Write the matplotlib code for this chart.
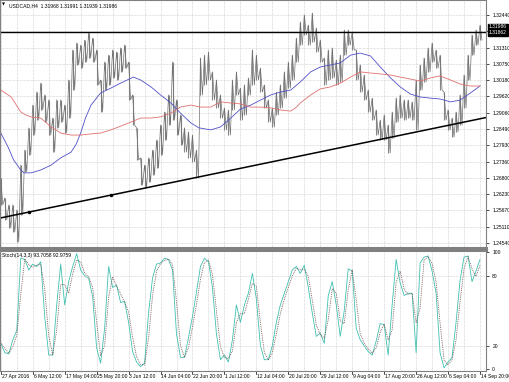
import numpy as np
import pandas as pd
import matplotlib
matplotlib.use("Agg")
import matplotlib.pyplot as plt

plt.rcParams["font.family"] = ["Liberation Sans", "DejaVu Sans"]

# H4 bar positions of the samples (40 bars between two date labels)
bars = np.arange(0, 605, 5)

high = [1.2679, 1.2610, 1.2586, 1.2586, 1.2568, 1.2724, 1.2776, 1.2853, 1.2932, 1.2977,
        1.3008, 1.2967, 1.2950, 1.2887, 1.2950, 1.2950, 1.2932, 1.3019, 1.3123, 1.3147,
        1.3140, 1.3157, 1.3182, 1.3164, 1.3123, 1.3019, 1.3081, 1.3105, 1.3123, 1.3116,
        1.3130, 1.3140, 1.3081, 1.2967, 1.2853, 1.2749, 1.2724, 1.2749, 1.2776, 1.2811,
        1.2863, 1.2908, 1.2967, 1.3081, 1.2950, 1.2898, 1.2853, 1.2839, 1.2828, 1.2776,
        1.3095, 1.3105, 1.3116, 1.3047, 1.3019, 1.2967, 1.2922, 1.2915, 1.3019, 1.3047,
        1.2991, 1.3002, 1.3026, 1.3123, 1.3105, 1.3060, 1.3002, 1.2950, 1.2922, 1.2977,
        1.3002, 1.3047, 1.3081, 1.3105, 1.3164, 1.3220, 1.3244, 1.3209, 1.3251, 1.3199,
        1.3157, 1.3095, 1.3123, 1.3130, 1.3088, 1.3105, 1.3192, 1.3192, 1.3185, 1.3123,
        1.3071, 1.3036, 1.2984, 1.2956, 1.2915, 1.2880, 1.2898, 1.2863, 1.2908, 1.2956,
        1.2967, 1.2950, 1.2950, 1.2943, 1.3019, 1.3071, 1.3095, 1.3130, 1.3147, 1.3123,
        1.3105, 1.2977, 1.2915, 1.2887, 1.2908, 1.2967, 1.3036, 1.3105, 1.3175, 1.3192,
        1.3209]
low = [1.2586, 1.2534, 1.2506, 1.2492, 1.2458, 1.2551, 1.2700, 1.2759, 1.2828, 1.2880,
       1.2915, 1.2873, 1.2828, 1.2769, 1.2853, 1.2873, 1.2835, 1.2887, 1.2984, 1.3071,
       1.3060, 1.3081, 1.3095, 1.3081, 1.3002, 1.2908, 1.2984, 1.3002, 1.3026, 1.3019,
       1.3047, 1.3060, 1.2950, 1.2863, 1.2742, 1.2655, 1.2645, 1.2665, 1.2690, 1.2714,
       1.2759, 1.2811, 1.2863, 1.2880, 1.2828, 1.2794, 1.2769, 1.2749, 1.2735, 1.2679,
       1.2967, 1.3002, 1.3019, 1.2950, 1.2922, 1.2887, 1.2846, 1.2828, 1.2915, 1.2967,
       1.2880, 1.2898, 1.2967, 1.3002, 1.3019, 1.2977, 1.2922, 1.2873, 1.2856, 1.2898,
       1.2922, 1.2956, 1.2991, 1.3019, 1.3081, 1.3140, 1.3175, 1.3140, 1.3150, 1.3116,
       1.3081, 1.3002, 1.3019, 1.3026, 1.3002, 1.3012, 1.3105, 1.3140, 1.3123, 1.3019,
       1.2977, 1.2950, 1.2908, 1.2880, 1.2828, 1.2811, 1.2811, 1.2766, 1.2818, 1.2873,
       1.2887, 1.2880, 1.2887, 1.2880, 1.2846, 1.2984, 1.3012, 1.3047, 1.3081, 1.3060,
       1.2984, 1.2880, 1.2846, 1.2821, 1.2839, 1.2863, 1.2922, 1.3019, 1.3105, 1.3140,
       1.3157]

stoch_main = [22, 14, 13, 25, 33, 95, 94, 85, 90, 88,
              92, 45, 12, 12, 55, 90, 55, 75, 88, 99,
              85, 80, 78, 62, 18, 5, 35, 88, 70, 72,
              57, 58, 40, 15, 6, 2, 5, 48, 78, 90,
              91, 95, 94, 85, 30, 10, 10, 27, 45, 66,
              88, 95, 92, 70, 30, 8, 12, 6, 25, 55,
              40, 55, 65, 82, 60, 20, 8, 8, 20, 40,
              55, 65, 75, 85, 88, 82, 89, 70, 48, 28,
              31, 22, 63, 75, 55, 28, 50, 86, 84, 35,
              25, 20, 15, 12, 24, 39, 38, 12, 55, 94,
              74, 63, 65, 65, 14, 91, 96, 97, 84, 65,
              14, 1, 6, 10, 40, 76, 96, 97, 75, 84,
              94]

ma_bars = [0, 9, 16, 25, 29, 38, 50, 63, 75, 88, 94, 100, 106, 113, 125, 138, 150, 166,
           175, 188, 200, 213, 225, 238, 248, 263, 275, 288, 300, 313, 325, 338, 350, 363,
           375, 388, 400, 413, 425, 438, 450, 463, 475, 488, 500, 513, 525, 538, 550, 563,
           575, 588, 600]
ma_blue = [1.2835, 1.2787, 1.2742, 1.2707, 1.2697, 1.2697, 1.2707, 1.2724, 1.2749, 1.2769,
           1.2794, 1.2835, 1.2887, 1.2932, 1.2974, 1.2991, 1.3008, 1.3029, 1.3019, 1.2995,
           1.2967, 1.2939, 1.2904, 1.2870, 1.2853, 1.2846, 1.2856, 1.2887, 1.2918, 1.2932,
           1.2949, 1.2967, 1.2977, 1.2984, 1.3012, 1.3047, 1.3064, 1.3071, 1.3078, 1.3105,
           1.3112, 1.3102, 1.3064, 1.3026, 1.2995, 1.2970, 1.2960, 1.2956, 1.2953, 1.2943,
           1.2949, 1.2974, 1.2998]
ma_red_bars = [0, 13, 25, 31, 38, 50, 63, 69, 75, 88, 100, 113, 125, 138, 150, 163, 175,
               188, 200, 213, 225, 238, 250, 263, 275, 288, 300, 313, 325, 338, 350, 363,
               369, 375, 388, 400, 413, 425, 438, 450, 463, 475, 488, 500, 513, 525, 538,
               550, 563, 575, 588, 600]
ma_red = [1.2984, 1.2960, 1.2908, 1.2898, 1.2891, 1.2887, 1.2856, 1.2846, 1.2835, 1.2828,
          1.2828, 1.2832, 1.2835, 1.2846, 1.2859, 1.2873, 1.2887, 1.2887, 1.2891, 1.2904,
          1.2925, 1.2932, 1.2925, 1.2925, 1.2943, 1.2939, 1.2936, 1.2925, 1.2925, 1.2922,
          1.2915, 1.2911, 1.2922, 1.2939, 1.2967, 1.2988, 1.2995, 1.3008, 1.3029, 1.3047,
          1.3043, 1.3040, 1.3036, 1.3029, 1.3022, 1.3015, 1.3026, 1.3033, 1.3019, 1.3005,
          1.2998, 1.2998]

trend_bars = [0, 608]
trend_price = [1.2541, 1.2889]
trend_anchor_bars = [35, 138]
level_price = 1.31862
last_price = 1.31986

date_labels = ["27 Apr 2016", "6 May 12:00", "17 May 04:00", "25 May 20:00", "3 Jun 12:00",
               "14 Jun 04:00", "22 Jun 20:00", "1 Jul 12:00", "12 Jul 04:00", "20 Jul 20:00",
               "29 Jul 12:00", "9 Aug 04:00", "17 Aug 20:00", "26 Aug 12:00", "6 Sep 04:00",
               "14 Sep 20:00"]
price_ticks = [1.24540, 1.25110, 1.25670, 1.26230, 1.26800, 1.27360, 1.27930, 1.28490,
               1.29060, 1.29620, 1.30180, 1.30750, 1.31310, 1.31870, 1.32440]

GRID = "#c8c8c8"
FS = 3.6

fig = plt.figure(figsize=(5.10, 3.82), dpi=100)
ax = fig.add_axes([0.0, 1 - 248 / 382, 486 / 510, 248 / 382])
ax2 = fig.add_axes([0.0, 1 - 371 / 382, 486 / 510, 121 / 382])

# zigzag through high/low of every sample to mimic the dense bars
zx = np.column_stack([bars, bars + 2.5]).ravel()
zy = np.column_stack([high, low]).ravel()
ax.vlines(bars, low, high, color="#858585", lw=0.8)
ax.plot(zx, zy, color="#707070", lw=0.5)

ax.plot(ma_bars, ma_blue, color="#5050c8", lw=0.6)
ax.plot(ma_red_bars, ma_red, color="#e07070", lw=0.6)
ax.plot(trend_bars, trend_price, color="black", lw=1.1)
tp = np.interp(trend_anchor_bars, trend_bars, trend_price)
ax.plot(trend_anchor_bars, tp, "o", color="black", ms=1.5)
ax.axhline(level_price, color="black", lw=1.0)

ax.set_xlim(-1, 607.5)
ax.set_ylim(1.24367, 1.3296)
ax.yaxis.tick_right()
ax.set_yticks(price_ticks)
ax.set_yticklabels(["%.5f" % p if abs(p - 1.3187) > 1e-4 else "" for p in price_ticks])
ax.set_xticks(np.arange(0, 608, 20))
ax.set_xticklabels([])
ax.tick_params(axis="y", labelsize=FS, length=2, width=0.5, pad=2.5, colors="black")
ax.tick_params(axis="x", length=0)
ax.grid(True, color=GRID, ls=(0, (1, 1)), lw=0.5)
for s in ax.spines.values():
    s.set_color("#808080")
    s.set_linewidth(0.8)
ax.spines["bottom"].set_linewidth(2.2)

ax.text(0.005, 0.988, "\u25bc", transform=ax.transAxes, fontsize=2.8, va="top",
        ha="left", family="DejaVu Sans")
ax.text(0.019, 0.988, "USDCAD,H4  1.31968 1.31991 1.31939 1.31986",
        transform=ax.transAxes, fontsize=FS, va="top", ha="left")

# price boxes on the right scale
for p, off in [(last_price, 0.9), (level_price, -0.9)]:
    ax.annotate("%.5f" % p, xy=(1.0, p), xycoords=("axes fraction", "data"),
                xytext=(2.2, off), textcoords="offset points", fontsize=FS,
                color="white", va="center", ha="left", annotation_clip=False,
                bbox=dict(boxstyle="square,pad=0.12", fc="black", ec="black"))

# stochastic panel
sig = pd.Series(stoch_main).rolling(2, min_periods=1).mean()
ax2.plot(bars, stoch_main, color="#40c0b0", lw=0.6)
ax2.plot(bars, sig, color="#6a4a4a", lw=0.6, ls=(0, (1, 1.2)))
ax2.set_xlim(-1, 607.5)
ax2.set_ylim(-1.7, 102.1)
ax2.yaxis.tick_right()
ax2.set_yticks([0, 20, 80, 100])
ax2.set_yticklabels(["0", "20", "80", "100"])
ax2.tick_params(axis="y", labelsize=FS, length=2, width=0.5, pad=2.5)
ax2.set_xticks(np.arange(0, 608, 20))
ax2.set_xticklabels([])
ax2.tick_params(axis="x", length=0)
ax2.grid(True, color=GRID, ls=(0, (1, 1)), lw=0.5)
ax2.yaxis.grid(False)
for v in [20, 80]:
    ax2.axhline(v, color=GRID, ls=(0, (1, 1)), lw=0.5)
for s in ax2.spines.values():
    s.set_color("#808080")
    s.set_linewidth(0.8)
ax2.spines["top"].set_linewidth(2.2)
ax2.text(0.005, 0.972, "Stoch(14,3,3) 93.7058 92.9759", transform=ax2.transAxes,
         fontsize=FS, va="top", ha="left")

# date labels under the lower panel
for i, lab in enumerate(date_labels):
    xb = i * 40
    ax2.plot([xb, xb], [-1.7, -4.0], color="black", lw=0.5, clip_on=False)
    ax2.annotate(lab, xy=(xb, 0), xycoords=("data", "axes fraction"), xytext=(0.6, -2.0),
                 textcoords="offset points", fontsize=FS, ha="left", va="top",
                 annotation_clip=False)

fig.savefig("out.png", dpi=100)
